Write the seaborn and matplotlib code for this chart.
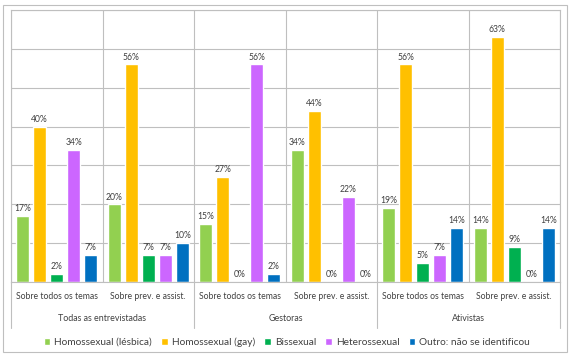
import numpy as np
import pandas as pd
import seaborn as sns
import matplotlib.pyplot as plt
from matplotlib.patches import Rectangle
import matplotlib.transforms as mtransforms

# Dados (%)
grupos = ['Todas as entrevistadas', 'Gestoras', 'Ativistas']
temas = ['Sobre todos os temas', 'Sobre prev. e assist.']
series = ['Homossexual (lésbica)', 'Homossexual (gay)', 'Bissexual',
          'Heterossexual', 'Outro: não se identificou']
lesbica = [17, 20, 15, 34, 19, 14]
gay = [40, 56, 27, 44, 56, 63]
bissexual = [2, 7, 0, 0, 5, 9]
hetero = [34, 7, 56, 22, 7, 0]
outro = [7, 10, 2, 0, 14, 14]
cores = ['#92D050', '#FFC000', '#00B050', '#CC66FF', '#0070C0']

categorias = [f'{g} | {t}' for g in grupos for t in temas]
valores = [lesbica, gay, bissexual, hetero, outro]

linhas = []
for s, vals in zip(series, valores):
    for c, v in zip(categorias, vals):
        linhas.append({'cat': c, 'serie': s, 'valor': v})
df = pd.DataFrame(linhas)

sns.set_style('white')
plt.rcParams['font.family'] = ['Lato', 'DejaVu Sans']
texto = '#404040'
grade = '#BFBFBF'

fig = plt.figure(figsize=(5.71, 3.57), dpi=100)
ax = fig.add_axes([11/571, 75/357, 549/571, 272/357])

sns.barplot(data=df, x='cat', y='valor', hue='serie', order=categorias,
            hue_order=series, palette=cores, width=0.93, gap=0.22,
            saturation=1, ax=ax)

for cont in ax.containers:
    ax.bar_label(cont, fmt='{:.0f}%', padding=2, fontsize=6.2, color=texto)

ax.set_ylim(0, 70)
ax.set_xlim(-0.5, 5.5)
ax.set_yticks(range(0, 71, 10))
ax.set_yticklabels([])
ax.yaxis.grid(True, color=grade, lw=0.8)
ax.set_axisbelow(True)
for x in np.arange(-0.5, 6, 1):
    ax.axvline(x, color=grade, lw=0.8, zorder=0)
for sp in ax.spines.values():
    sp.set_color(grade)
    sp.set_linewidth(0.8)
ax.set_xticks([])
ax.set_xlabel('')
ax.set_ylabel('')
ax.tick_params(length=0)

# rótulos de dois níveis no eixo x
trans = mtransforms.blended_transform_factory(ax.transData, ax.transAxes)
for i, c in enumerate(categorias):
    ax.text(i, -0.0515, temas[i % 2], transform=trans, ha='center',
            va='center', fontsize=6.2, color=texto)
for j, g in enumerate(grupos):
    ax.text(2*j + 0.5, -0.136, g, transform=trans, ha='center',
            va='center', fontsize=6.4, color=texto)
for x in [-0.5, 1.5, 3.5, 5.5]:
    ax.plot([x, x], [0, -0.169], transform=trans, color=grade, lw=0.8,
            clip_on=False)

# legenda
sns.move_legend(ax, 'center', bbox_to_anchor=(287/571, 15/357),
                bbox_transform=fig.transFigure, ncol=5, frameon=False,
                title=None, fontsize=7.3, handlelength=0.65, handleheight=0.65,
                handletextpad=0.4, columnspacing=0.9, labelcolor=texto)

fig.patches.append(Rectangle((3/571, 5/357), 564/571, 347/357,
                             transform=fig.transFigure, fill=False,
                             edgecolor=grade, lw=0.8))

fig.savefig('out.png', dpi=100)
